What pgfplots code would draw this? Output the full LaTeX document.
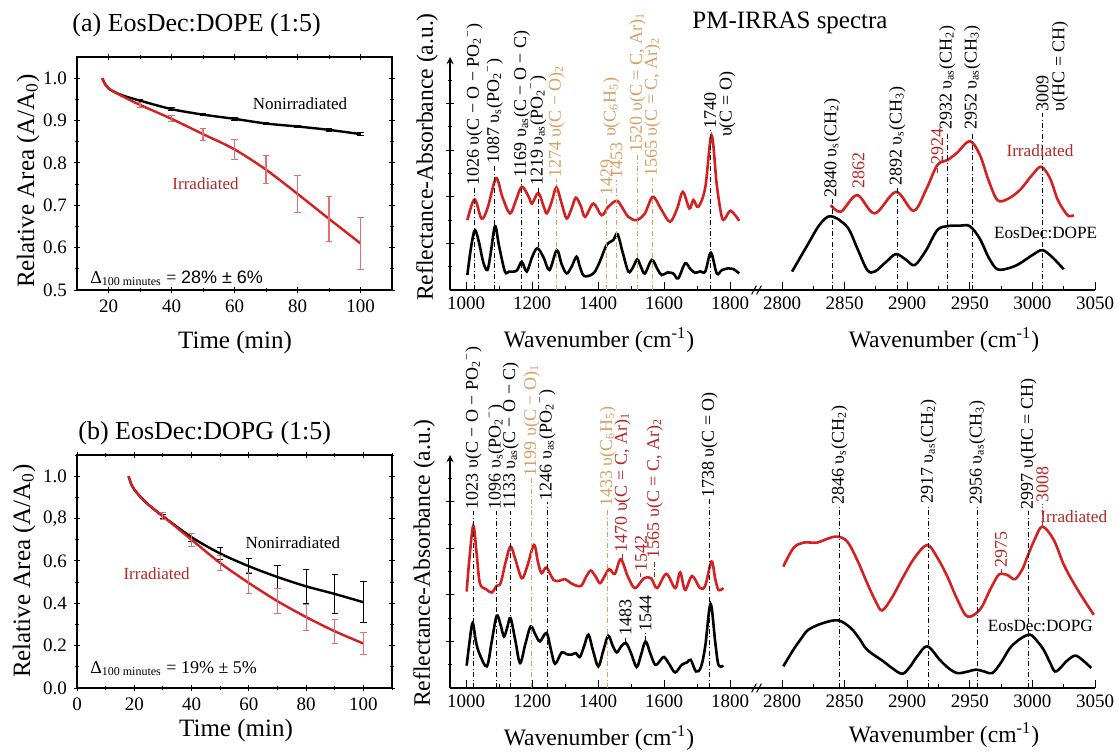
\documentclass[border=0pt]{standalone}
\usepackage{fontspec}
\setmainfont{Liberation Serif}
\newfontfamily\arialf{Liberation Sans}
\usepackage{pgfplots}
\pgfplotsset{compat=1.18}
\definecolor{cred}{RGB}{212,32,32}
\definecolor{tred}{RGB}{182,38,38}
\definecolor{ered}{RGB}{226,112,112}
\definecolor{corg}{RGB}{214,160,100}
\tikzset{
 ann text/.style={rotate=90, anchor=west, inner sep=0.6pt, font=\fontsize{9}{10}\selectfont},
 ann line/.style={line width=0.45pt, dash pattern=on 2.5pt off 1.2pt on 0.5pt off 1.2pt},
}
\newcommand{\vann}[4]{\draw[ann line, draw=#3] (axis cs:#1,0) -- (axis cs:#1,#2);
 \node[ann text, text=#3] at (axis cs:#1,#2) {#4};}
\newcommand{\sann}[5]{\draw[ann line, draw=#4] (axis cs:#1,#2) -- (axis cs:#1,#3);
 \node[ann text, text=#4] at (axis cs:#1,#3) {#5};}
\newcommand{\tann}[4]{\node[ann text, text=#3] at (axis cs:#1,#2) {#4};}
\newcommand{\sub}[1]{\textsubscript{#1}}
\newcommand{\poo}{PO\textsubscript{2}\textsuperscript{−}}
\pgfplotsset{
 decay/.style={scale only axis, width=157.5pt, height=116.5pt, anchor=south west,
  tick align=center, major tick length=3pt, minor tick length=1.6pt,
  tick style={black, line width=0.5pt}, axis line style={line width=0.6pt},
  tick label style={font=\fontsize{9.5}{10}\selectfont},
  /pgf/number format/assume math mode=true, clip=false},
 spec/.style={scale only axis, height=116.5pt, anchor=south west, ymin=0, ymax=10,
  axis x line=bottom, x axis line style={-}, y axis line style={-},
  axis line style={line width=0.6pt}, tick align=inside,
  major tick length=4pt, minor tick length=2pt, tick style={black, line width=0.5pt},
  tick label style={font=\fontsize{9.5}{10}\selectfont},
  /pgf/number format/assume math mode=true, /pgf/number format/1000 sep={},
  scaled x ticks=false, clip=false},
 specL/.style={spec, width=152.5pt, xmin=951.5, xmax=1875.8, axis y line=left,
  xtick={1000,1200,1400,1600,1800}, minor xtick={1100,1300,1500,1700},
  ytick={2,4,6,8}, minor ytick={1,3,5,7,9}, yticklabels={}},
 specR/.style={spec, width=170pt, xmin=2778.4, xmax=3050, axis y line=none,
  xtick={2800,2850,2900,2950,3000,3050}, minor x tick num=1, ytick=\empty},
 redc/.style={cred, line width=1.3pt, smooth, tension=0.55},
 blkc/.style={black, line width=1.3pt, smooth, tension=0.55},
 ebar/.style={draw=none, mark=none, forget plot, error bars/.cd, y dir=both, y explicit,
  error bar style={draw=#1, line width=0.55pt},
  error mark options={rotate=90, mark size=1.6pt, draw=#1}},
}
\begin{document}
\begin{tikzpicture}
\useasboundingbox (0,0) rectangle (559pt,-377pt);
% ---------------- top-left ----------------
\begin{axis}[decay, at={(38.5pt,-145pt)}, xmin=10, xmax=110, ymin=0.5, ymax=1.05,
 xtick={20,40,60,80,100}, minor xtick={30,50,70,90},
 ytick={0.5,0.6,0.7,0.8,0.9,1.0}, yticklabels={0.5,0.6,0.7,0.8,0.9,1.0}, minor ytick={0.55,0.65,0.75,0.85,0.95}]
\addplot[black, line width=1.2pt, smooth, mark=none] coordinates {(18,1.0)(19,0.985)(20,0.976)(22,0.967)(25,0.958)(30,0.947)(40,0.927)(50,0.914)(60,0.904)(70,0.893)(80,0.886)(90,0.878)(100,0.868)};
\addplot[ebar=black] coordinates {(30,0.947)+-(0,0.003)(40,0.927)+-(0,0.003)(50,0.914)+-(0,0.003)(60,0.904)+-(0,0.003)(70,0.893)+-(0,0.003)(80,0.886)+-(0,0.003)(90,0.878)+-(0,0.003)(100,0.868)+-(0,0.003)};
\addplot[cred, line width=1.2pt, smooth, mark=none] coordinates {(18,1.0)(19,0.985)(20,0.976)(22,0.967)(25,0.955)(30,0.937)(40,0.904)(50,0.868)(60,0.832)(70,0.784)(80,0.727)(90,0.668)(100,0.61)};
\addplot[ebar=ered] coordinates {(30,0.937)+-(0,0.005)(40,0.904)+-(0,0.007)(50,0.868)+-(0,0.014)(60,0.832)+-(0,0.023)(70,0.784)+-(0,0.033)(80,0.727)+-(0,0.043)(90,0.668)+-(0,0.053)(100,0.61)+-(0,0.061)};
\node[font=\fontsize{8.5}{10}\selectfont] at (axis cs:80.8,0.939) {Nonirradiated};
\node[font=\fontsize{8.5}{10}\selectfont, text=tred] at (axis cs:50.8,0.75) {Irradiated};
\node[anchor=west, inner sep=0pt, font=\fontsize{9}{10}\selectfont] at (axis cs:14.1,0.528) {Δ\textsubscript{100 minutes} = {\arialf 28\% ± 6\%}};
\end{axis}
% ---------------- bottom-left ----------------
\begin{axis}[decay, at={(38.5pt,-344pt)}, xmin=0, xmax=110, ymin=0, ymax=1.1,
 xtick={0,20,40,60,80,100}, minor xtick={10,30,50,70,90,110},
 ytick={0,0.2,0.4,0.6,0.8,1.0}, yticklabels={0.0,0.2,0.4,0.6,{0,8},1.0}, minor ytick={0.1,0.3,0.5,0.7,0.9,1.1}]
\addplot[black, line width=1.2pt, smooth, mark=none] coordinates {(18,1.0)(19,0.96)(20,0.937)(22,0.905)(25,0.865)(30,0.811)(40,0.712)(50,0.635)(60,0.575)(70,0.524)(80,0.48)(90,0.444)(100,0.405)};
\addplot[ebar=black] coordinates {(30,0.811)+-(0,0.01)(40,0.712)+-(0,0.018)(50,0.635)+-(0,0.03)(60,0.575)+-(0,0.035)(70,0.524)+-(0,0.055)(80,0.48)+-(0,0.08)(90,0.444)+-(0,0.09)(100,0.405)+-(0,0.096)};
\addplot[cred, line width=1.2pt, smooth, mark=none] coordinates {(18,1.0)(19,0.96)(20,0.937)(22,0.905)(25,0.865)(30,0.811)(40,0.70)(50,0.59)(60,0.496)(70,0.41)(80,0.335)(90,0.268)(100,0.21)};
\addplot[ebar=ered] coordinates {(30,0.811)+-(0,0.016)(40,0.70)+-(0,0.03)(50,0.59)+-(0,0.037)(60,0.496)+-(0,0.05)(70,0.41)+-(0,0.06)(80,0.335)+-(0,0.062)(90,0.268)+-(0,0.058)(100,0.21)+-(0,0.051)};
\node[font=\fontsize{8.5}{10}\selectfont] at (axis cs:75.4,0.688) {Nonirradiated};
\node[font=\fontsize{8.5}{10}\selectfont, text=tred] at (axis cs:27.8,0.54) {Irradiated};
\node[anchor=west, inner sep=0pt, font=\fontsize{9}{10}\selectfont] at (axis cs:4.5,0.094) {Δ\textsubscript{100 minutes} = 19\% ± 5\%};
\end{axis}
% ---------------- top-middle ----------------
\begin{axis}[specL, at={(225pt,-145pt)}]
\addplot[redc] coordinates {(1004,3.0)(1026,3.89)(1047,3.07)(1065,3.5)(1091,4.79)(1110,4.0)(1133,3.29)(1150,3.8)(1169,4.43)(1190,4.0)(1200,3.71)(1219,4.17)(1235,3.6)(1245,3.29)(1260,3.8)(1274,4.4)(1290,3.7)(1305,3.07)(1320,3.5)(1333,3.96)(1348,3.6)(1361,3.14)(1386,3.71)(1411,3.21)(1431,3.57)(1457,3.83)(1475,3.5)(1492,3.14)(1517,3.0)(1542,3.29)(1566,4.0)(1590,3.5)(1618,2.93)(1640,3.5)(1657,4.21)(1677,3.5)(1689,3.86)(1704,3.57)(1725,4.4)(1744,6.64)(1760,4.5)(1775,3.14)(1785,3.07)(1802,3.4)(1828,2.97)};
\addplot[blkc] coordinates {(1004,0.64)(1015,1.8)(1027,2.57)(1040,2.0)(1052,1.2)(1065,0.86)(1075,1.6)(1088,2.74)(1100,1.9)(1118,0.79)(1130,0.79)(1143,0.79)(1155,0.85)(1169,1.21)(1184,0.79)(1200,1.4)(1216,1.79)(1235,1.4)(1253,0.86)(1275,1.71)(1290,1.1)(1305,0.71)(1320,1.0)(1335,1.43)(1345,1.0)(1358,0.6)(1386,0.71)(1405,1.2)(1426,1.93)(1446,2.14)(1459,2.4)(1475,1.6)(1492,0.79)(1505,0.95)(1519,1.31)(1530,1.0)(1542,0.71)(1563,1.29)(1580,0.9)(1593,0.64)(1610,0.75)(1628,0.71)(1643,0.5)(1664,1.14)(1680,0.9)(1694,0.74)(1710,0.8)(1725,0.79)(1742,1.6)(1760,0.71)(1775,0.85)(1795,0.93)(1810,0.9)(1828,0.71)};
\vann{1026}{4.4}{black}{1026 υ(C − O − \poo)}
\vann{1087}{5.35}{black}{1087 υ\sub{s}(\poo)}
\vann{1169}{4.75}{black}{1169 υ\sub{as}(C − O − C)}
\vann{1219}{4.4}{black}{1219 υ\sub{as}(\poo)}
\vann{1274}{4.75}{corg}{1274 υ(C − O)\sub{2}}
\vann{1426}{4.0}{corg}{1429}
\vann{1456}{4.7}{corg}{1453}
\tann{1440}{6.5}{corg}{υ(C\sub{6}H\sub{5})}
\vann{1520}{5.85}{corg}{1520 υ(C = C, Ar)\sub{1}}
\vann{1565}{4.8}{corg}{1565 υ(C = C, Ar)\sub{2}}
\vann{1740}{6.85}{black}{1740}
\tann{1792}{6.5}{black}{υ(C = O)}
\end{axis}
% ---------------- top-right ----------------
\begin{axis}[specR, at={(377.5pt,-145pt)}]
\addplot[redc] coordinates {(2839,3.64)(2847,3.36)(2860,4.07)(2874,3.29)(2891,4.21)(2905,3.4)(2915,4.3)(2924,5.36)(2932,5.57)(2940,5.9)(2950,6.39)(2958,5.8)(2965,4.7)(2972,3.86)(2980,3.9)(2990,4.29)(3000,4.95)(3007,5.29)(3014,4.8)(3020,3.9)(3025,3.43)(3029,3.17)(3033,3.21)};
\addplot[blkc] coordinates {(2808,0.79)(2820,1.9)(2830,2.8)(2839,3.17)(2852,2.71)(2860,1.8)(2868,0.86)(2874,0.79)(2883,1.2)(2891,1.54)(2899,1.3)(2906,1.07)(2915,1.7)(2924,2.57)(2932,2.74)(2942,2.76)(2950,2.74)(2958,2.2)(2965,1.4)(2972,0.89)(2982,0.95)(2990,1.14)(3000,1.5)(3008,1.71)(3016,1.4)(3025,0.89)};
\vann{2840}{3.9}{black}{2840 υ\sub{s}(CH\sub{2})}
\tann{2861}{4.3}{tred}{2862}
\vann{2892}{4.4}{black}{2892 υ\sub{s}(CH\sub{3})}
\sann{2924}{5.0}{5.3}{tred}{2924}
\vann{2932}{6.8}{black}{2932 υ\sub{as}(CH\sub{2})}
\vann{2952}{6.8}{black}{2952 υ\sub{as}(CH\sub{3})}
\vann{3008}{7.6}{black}{3009}
\tann{3022}{7.6}{black}{υ(HC = CH)}
\node[anchor=west, inner sep=0pt, text=tred, font=\fontsize{8.6}{10}\selectfont] at (axis cs:2979,6.0) {Irradiated};
\node[anchor=west, inner sep=0pt, font=\fontsize{8.6}{10}\selectfont] at (axis cs:2969,2.43) {EosDec:DOPE};
\end{axis}
% ---------------- bottom-middle ----------------
\begin{axis}[specL, at={(225pt,-344pt)}]
\addplot[redc] coordinates {(1002,4.14)(1010,5.5)(1022,6.96)(1032,5.8)(1042,4.5)(1060,4.25)(1078,4.1)(1093,4.39)(1105,4.5)(1120,5.4)(1135,6.07)(1150,5.5)(1169,4.71)(1185,5.2)(1206,6.14)(1218,5.4)(1229,4.93)(1244,5.17)(1265,4.64)(1282,4.6)(1300,4.67)(1318,4.5)(1335,4.39)(1350,4.4)(1365,4.8)(1378,5.04)(1392,4.8)(1406,4.5)(1420,4.8)(1434,5.1)(1451,4.9)(1469,5.53)(1490,4.8)(1512,4.29)(1539,4.71)(1561,4.71)(1579,4.29)(1607,4.9)(1634,4.29)(1649,4.96)(1664,4.21)(1685,4.81)(1709,4.29)(1725,4.4)(1744,5.43)(1755,4.7)(1765,4.21)(1780,4.29)};
\addplot[blkc] coordinates {(1002,0.96)(1010,1.9)(1020,2.79)(1030,2.0)(1040,1.5)(1063,0.93)(1078,2.0)(1093,3.1)(1105,2.7)(1115,2.21)(1125,2.6)(1135,3.0)(1150,2.0)(1164,1.07)(1180,1.9)(1196,2.64)(1210,2.3)(1224,2.0)(1244,2.36)(1258,1.6)(1270,1.04)(1290,1.53)(1305,1.45)(1320,1.43)(1333,1.5)(1345,1.33)(1358,1.8)(1371,2.29)(1385,1.6)(1401,0.93)(1416,1.6)(1431,2.24)(1445,1.8)(1457,1.53)(1471,1.8)(1485,1.93)(1500,1.5)(1517,0.9)(1530,1.4)(1544,2.0)(1558,1.5)(1573,1.0)(1587,1.15)(1600,1.33)(1617,1.0)(1634,0.67)(1654,1.0)(1670,1.1)(1681,1.21)(1697,0.71)(1712,0.9)(1725,1.8)(1741,3.61)(1755,2.0)(1765,1.0)(1780,0.96)};
\vann{1023}{7.6}{black}{1023 υ(C − O − \poo)}
\vann{1092}{7.6}{black}{1096 υ\sub{s}(\poo)}
\vann{1136}{7.6}{black}{1133 υ\sub{as}(C − O − C)}
\vann{1199}{9.0}{corg}{1199 υ(C − O)\sub{1}}
\vann{1246}{8.0}{black}{1246 υ\sub{as}(\poo)}
\vann{1430}{7.7}{corg}{1433 υ(C\sub{6}H\sub{5})}
\sann{1474}{5.55}{5.75}{tred}{1470 υ(C = C, Ar)\sub{1}}
\sann{1530}{4.75}{4.95}{tred}{1542}
\sann{1572}{4.75}{5.5}{tred}{1565 υ(C = C, Ar)\sub{2}}
\vann{1738}{8.1}{black}{1738 υ(C = O)}
\sann{1483}{1.95}{2.2}{black}{1483}
\sann{1544}{2.0}{2.36}{black}{1544}
\end{axis}
% ---------------- bottom-right ----------------
\begin{axis}[specR, at={(377.5pt,-344pt)}]
\addplot[redc] coordinates {(2801,5.21)(2809,6.0)(2817,6.24)(2828,6.24)(2836,6.4)(2844,6.5)(2852,6.29)(2860,5.5)(2868,4.5)(2875,3.7)(2880,3.33)(2888,3.9)(2897,4.79)(2906,5.6)(2916,6.14)(2924,5.6)(2932,4.79)(2940,3.8)(2948,3.07)(2958,3.36)(2966,4.2)(2972,4.79)(2975,4.9)(2980,4.85)(2986,4.67)(2992,5.1)(2996,5.64)(3002,6.4)(3008,6.93)(3017,6.36)(3025,5.3)(3033,4.5)(3041,3.8)(3049,3.14)};
\addplot[blkc] coordinates {(2801,0.93)(2809,1.64)(2815,2.1)(2821,2.5)(2833,2.79)(2845,2.9)(2855,2.57)(2862,2.1)(2868,1.64)(2881,1.14)(2888,0.85)(2896,0.61)(2902,0.9)(2908,1.36)(2916,1.79)(2926,1.21)(2933,0.85)(2940,0.64)(2948,0.7)(2955,0.79)(2962,0.7)(2968,0.64)(2975,1.1)(2982,1.71)(2990,2.1)(2998,2.29)(3004,2.0)(3009,1.64)(3014,1.1)(3018,0.71)(3023,0.9)(3027,1.14)(3034,1.39)(3040,1.2)(3047,0.86)};
\vann{2846}{7.8}{black}{2846 υ\sub{s}(CH\sub{2})}
\vann{2917}{7.85}{black}{2917 υ\sub{as}(CH\sub{2})}
\vann{2956}{7.8}{black}{2956 υ\sub{as}(CH\sub{3})}
\vann{2997}{7.6}{black}{2997 υ(HC = CH)}
\sann{2975}{4.9}{5.1}{tred}{2975}
\sann{3008}{6.95}{7.9}{tred}{3008}
\node[anchor=west, inner sep=0pt, text=tred, font=\fontsize{8.6}{10}\selectfont] at (axis cs:3006,7.36) {Irradiated};
\node[anchor=west, inner sep=0pt, font=\fontsize{8.6}{10}\selectfont] at (axis cs:2964,2.67) {EosDec:DOPG};
\end{axis}
% ---------------- break marks ----------------
\draw[line width=0.5pt] (375.8pt,-147.2pt) -- (378.2pt,-142.8pt);
\draw[line width=0.5pt] (378.3pt,-147.2pt) -- (380.7pt,-142.8pt);
\draw[line width=0.5pt] (375.8pt,-346.2pt) -- (378.2pt,-341.8pt);
\draw[line width=0.5pt] (378.3pt,-346.2pt) -- (380.7pt,-341.8pt);
% ---------------- titles and labels ----------------
\node[anchor=west, inner sep=0pt, font=\fontsize{13}{15}\selectfont] at (36pt,-12.5pt) {(a) EosDec:DOPE (1:5)};
\node[anchor=west, inner sep=0pt, font=\fontsize{13}{15}\selectfont] at (39pt,-216.5pt) {(b) EosDec:DOPG (1:5)};
\node[inner sep=0pt, font=\fontsize{12.5}{15}\selectfont] at (395pt,-11.5pt) {PM-IRRAS spectra};
\node[rotate=90, inner sep=0pt, font=\fontsize{12.5}{15}\selectfont] at (14pt,-90.5pt) {Relative Area (A/A\textsubscript{0})};
\node[rotate=90, inner sep=0pt, font=\fontsize{12.5}{15}\selectfont] at (12pt,-285.5pt) {Relative Area (A/A\textsubscript{0})};
\node[inner sep=0pt, font=\fontsize{12.5}{15}\selectfont] at (117.5pt,-171pt) {Time (min)};
\node[inner sep=0pt, font=\fontsize{12.5}{15}\selectfont] at (118pt,-365pt) {Time (min)};
\node[rotate=90, inner sep=0pt, font=\fontsize{11.8}{14}\selectfont] at (213.5pt,-78.5pt) {Reflectance-Absorbance (a.u.)};
\node[rotate=90, inner sep=0pt, font=\fontsize{11.8}{14}\selectfont] at (212pt,-281.5pt) {Reflectance-Absorbance (a.u.)};
\node[inner sep=0pt, font=\fontsize{11.8}{14}\selectfont] at (299.5pt,-170pt) {Wavenumber (cm\textsuperscript{-1})};
\node[inner sep=0pt, font=\fontsize{11.8}{14}\selectfont] at (472pt,-170pt) {Wavenumber (cm\textsuperscript{-1})};
\node[inner sep=0pt, font=\fontsize{11.8}{14}\selectfont] at (299.5pt,-369pt) {Wavenumber (cm\textsuperscript{-1})};
\node[inner sep=0pt, font=\fontsize{11.8}{14}\selectfont] at (472pt,-367.5pt) {Wavenumber (cm\textsuperscript{-1})};
\end{tikzpicture}
\end{document}
